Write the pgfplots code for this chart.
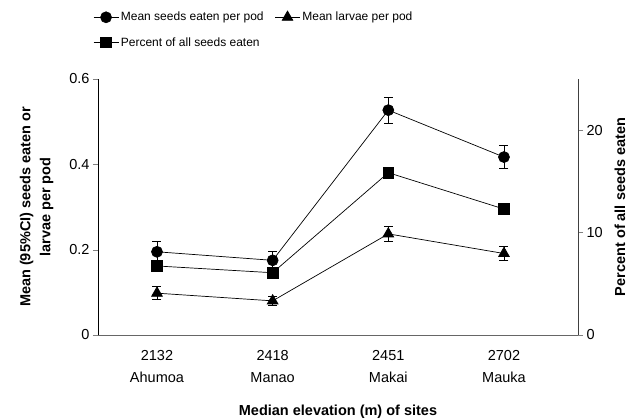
\documentclass[border=0pt]{standalone}
\usepackage{fontspec}
\setmainfont{Liberation Sans}
\usepackage{pgfplots}
\pgfplotsset{compat=1.18}
\newcommand\tickfont{\fontsize{14.5}{22}\selectfont}
\newcommand\legfont{\fontsize{12}{14}\selectfont}
\begin{document}
\begin{tikzpicture}
\path[use as bounding box] (0,0) rectangle (641pt,419pt);
\pgfplotsset{
  common/.style={
    scale only axis, width=480pt, height=256pt,
    at={(98pt,84pt)}, anchor=south west,
    xmin=-0.51, xmax=3.64,
    /pgf/number format/assume math mode=true,
    tick align=outside, major tick length=5pt,
    xticklabel style={font=\tickfont},
    yticklabel style={font=\tickfont},
    label style={font=\fontsize{14.5}{20}\selectfont\bfseries},
  },
  ser/.style={black, line width=0.7pt, mark options={solid, fill=black, draw=black}},
}
\begin{axis}[common,
  axis y line*=left, axis x line*=bottom,
  x axis line style={draw=gray!80!black, line width=0.8pt},
  y axis line style={line width=0.8pt},
  ymin=0, ymax=0.6, ytick={0,0.2,0.4,0.6},
  xtick={0,1,2,3}, major x tick style={draw=none},
  xticklabels={{2132\\Ahumoa},{2418\\Manao},{2451\\Makai},{2702\\Mauka}},
  xticklabel style={align=center, yshift=-7pt},
  xlabel={Median elevation (m) of sites},
  xlabel style={yshift=-15pt},
  ylabel={Mean (95\%CI) seeds eaten or\\larvae per pod},
  ylabel style={align=center, yshift=9pt},
  legend columns=2,
  legend style={at={(axis description cs:0,1)}, anchor=north west,
    xshift=-8pt, yshift=71pt, draw=none, fill=none,
    font=\legfont, row sep=11pt,
    /tikz/every even column/.append style={column sep=9pt}},
  legend cell align=left,
  legend image code/.code={\draw[mark repeat=2, mark phase=2] plot coordinates {(0pt,0pt) (12.5pt,0pt) (25pt,0pt)};},
]
\addplot[ser, mark=*, mark size=5.5pt,
  error bars/.cd, y dir=both, y explicit,
  error bar style={black, line width=0.7pt, solid},
  error mark options={black, mark size=4.5pt, line width=0.7pt, rotate=90}]
  coordinates {(0,0.195) +- (0,0.025) (1,0.175) +- (0,0.022) (2,0.527) +- (0,0.030) (3,0.417) +- (0,0.027)};
\addlegendentry{Mean seeds eaten per pod}
\addplot[ser, mark=triangle*, mark size=6.2pt,
  error bars/.cd, y dir=both, y explicit,
  error bar style={black, line width=0.7pt, solid},
  error mark options={black, mark size=4.5pt, line width=0.7pt, rotate=90}]
  coordinates {(0,0.098) +- (0,0.015) (1,0.080) +- (0,0.011) (2,0.237) +- (0,0.018) (3,0.191) +- (0,0.017)};
\addlegendentry{Mean larvae per pod}
\addlegendimage{ser, mark=square*, mark size=5.3pt}
\addlegendentry{Percent of all seeds eaten}
\end{axis}
\begin{axis}[common,
  axis y line*=right, axis x line=none,
  y axis line style={draw=black!75, line width=0.8pt},
  ymin=0, ymax=25, ytick={0,10,20},
  ylabel={Percent of all seeds eaten},
  ylabel style={yshift=-5pt},
]
\addplot[ser, mark=square*, mark size=5.3pt]
  coordinates {(0,6.74) (1,6.08) (2,15.85) (3,12.3)};
\end{axis}
\end{tikzpicture}
\end{document}
